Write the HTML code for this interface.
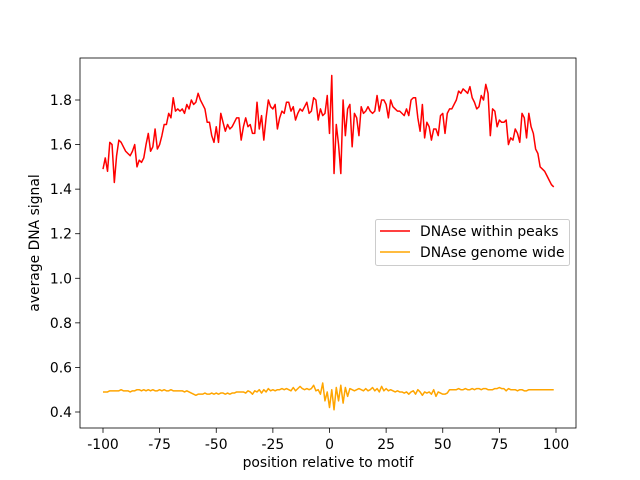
<!DOCTYPE html>
<html><head><meta charset="utf-8"><style>body{margin:0;background:#fff}svg{display:block;font-family:"DejaVu Sans","Liberation Sans",sans-serif}</style></head>
<body>
<svg id="chart" width="640" height="480"></svg>
<script>
const peaks=[1.49,1.54,1.48,1.61,1.60,1.43,1.55,1.62,1.61,1.59,1.57,1.56,1.55,1.57,1.60,1.50,1.53,1.52,1.54,1.60,1.65,1.57,1.59,1.67,1.58,1.60,1.64,1.69,1.69,1.74,1.72,1.81,1.75,1.76,1.75,1.76,1.74,1.78,1.76,1.80,1.78,1.79,1.83,1.80,1.78,1.76,1.70,1.70,1.64,1.61,1.68,1.61,1.74,1.70,1.66,1.69,1.67,1.68,1.70,1.72,1.72,1.62,1.68,1.72,1.68,1.69,1.65,1.65,1.79,1.67,1.73,1.62,1.72,1.80,1.77,1.76,1.78,1.67,1.72,1.75,1.74,1.79,1.79,1.75,1.77,1.71,1.74,1.76,1.75,1.77,1.79,1.74,1.75,1.81,1.80,1.71,1.76,1.73,1.74,1.82,1.65,1.91,1.47,1.69,1.60,1.47,1.80,1.64,1.76,1.78,1.59,1.74,1.72,1.64,1.77,1.74,1.75,1.77,1.75,1.74,1.75,1.82,1.75,1.80,1.80,1.78,1.72,1.80,1.77,1.76,1.75,1.75,1.74,1.73,1.76,1.73,1.80,1.81,1.81,1.72,1.66,1.78,1.63,1.70,1.68,1.62,1.67,1.67,1.64,1.73,1.74,1.65,1.74,1.76,1.76,1.78,1.80,1.84,1.83,1.85,1.84,1.83,1.86,1.81,1.79,1.76,1.77,1.82,1.80,1.87,1.83,1.64,1.76,1.75,1.68,1.71,1.70,1.70,1.71,1.60,1.63,1.62,1.67,1.65,1.61,1.74,1.72,1.63,1.74,1.68,1.65,1.58,1.56,1.50,1.49,1.48,1.46,1.44,1.42,1.41];
const genome=[0.49,0.49,0.49,0.495,0.495,0.495,0.495,0.495,0.5,0.495,0.495,0.495,0.49,0.495,0.495,0.5,0.5,0.495,0.5,0.495,0.5,0.495,0.5,0.495,0.495,0.5,0.495,0.5,0.495,0.495,0.5,0.495,0.495,0.495,0.495,0.495,0.49,0.495,0.49,0.485,0.48,0.475,0.48,0.48,0.48,0.485,0.48,0.48,0.485,0.48,0.485,0.48,0.485,0.485,0.48,0.485,0.48,0.485,0.485,0.49,0.49,0.49,0.49,0.485,0.495,0.49,0.48,0.495,0.49,0.5,0.485,0.5,0.49,0.505,0.495,0.5,0.495,0.5,0.5,0.505,0.5,0.505,0.5,0.495,0.51,0.495,0.505,0.515,0.505,0.5,0.505,0.5,0.505,0.52,0.495,0.5,0.48,0.53,0.45,0.49,0.42,0.5,0.41,0.51,0.45,0.52,0.44,0.51,0.47,0.505,0.5,0.495,0.5,0.505,0.5,0.495,0.505,0.495,0.5,0.51,0.495,0.505,0.49,0.515,0.495,0.505,0.495,0.5,0.495,0.49,0.495,0.49,0.49,0.485,0.49,0.48,0.49,0.495,0.48,0.5,0.49,0.475,0.49,0.485,0.49,0.48,0.5,0.47,0.49,0.485,0.48,0.48,0.485,0.5,0.5,0.5,0.5,0.505,0.5,0.5,0.505,0.5,0.5,0.505,0.5,0.505,0.505,0.5,0.505,0.505,0.5,0.5,0.5,0.505,0.505,0.51,0.505,0.505,0.495,0.505,0.5,0.5,0.5,0.495,0.5,0.5,0.495,0.495,0.5,0.5,0.5,0.5,0.5,0.5,0.5,0.5,0.5,0.5,0.5,0.5,0.5,0.5];
const xTicks=[-100,-75,-50,-25,0,25,50,75,100];
const yTicks=[0.4,0.6,0.8,1.0,1.2,1.4,1.6,1.8];
const NS="http://www.w3.org/2000/svg",svg=document.getElementById('chart');
const L=80,R=576,T=58,B=428,FS=13.9;
const sx=v=>103+(v+100)*(556-103)/200;
const sy=v=>412-(v-0.4)*(312/1.4);
function mk(tag,attrs,parent){const e=document.createElementNS(NS,tag);for(const k in attrs)e.setAttribute(k,attrs[k]);(parent||svg).appendChild(e);return e;}
function line(data,color,name){
 const n=Math.min(data.length,200);
 const d=data.slice(0,n).map((v,i)=>(i?'L':'M')+sx(i-100).toFixed(2)+' '+sy(v).toFixed(2)).join(' ');
 const p=mk('path',{d:d,fill:'none',stroke:color,'stroke-width':1.5,'stroke-linejoin':'round'});
 
 
}
line(peaks,'#ff0000','series-dnase-within-peaks');
line(genome,'#ffa500','series-dnase-genome-wide');
const frame=mk('rect',{x:L,y:T,width:R-L,height:B-T,fill:'none',stroke:'#000','stroke-width':0.8});


xTicks.forEach(t=>{const x=sx(t);mk('line',{x1:x,x2:x,y1:B,y2:B+4.9,stroke:'#000','stroke-width':0.8});
 const tx=mk('text',{x:x,y:B+21,'font-size':FS,'text-anchor':'middle'});tx.textContent=t;
 
 });
yTicks.forEach(t=>{const y=sy(t);mk('line',{x1:L-4.9,x2:L,y1:y,y2:y,stroke:'#000','stroke-width':0.8});
 const tx=mk('text',{x:L-8,y:y+5,'font-size':FS,'text-anchor':'end'});tx.textContent=t.toFixed(1);
 
 });
const xt=mk('text',{x:328,y:467,'font-size':FS,'text-anchor':'middle'});xt.textContent='position relative to motif';


const yt=mk('text',{x:0,y:0,'font-size':FS,'text-anchor':'middle',transform:'translate(39,243) rotate(-90)'});yt.textContent='average DNA signal';


const lg=mk('g',{});


mk('rect',{x:375.5,y:219.5,width:194,height:46,rx:2,fill:'#fff','fill-opacity':0.8,stroke:'#ccc'},lg);
[['DNAse within peaks','#ff0000',231],['DNAse genome wide','#ffa500',252]].forEach(([lab,c,y])=>{
 const e=mk('g',{},lg);
 
 
 mk('line',{x1:380,x2:410,y1:y,y2:y,stroke:c,'stroke-width':1.5},e);
 const t=mk('text',{x:420,y:y+5,'font-size':FS},e);t.textContent=lab;});
</script>
</body></html>
